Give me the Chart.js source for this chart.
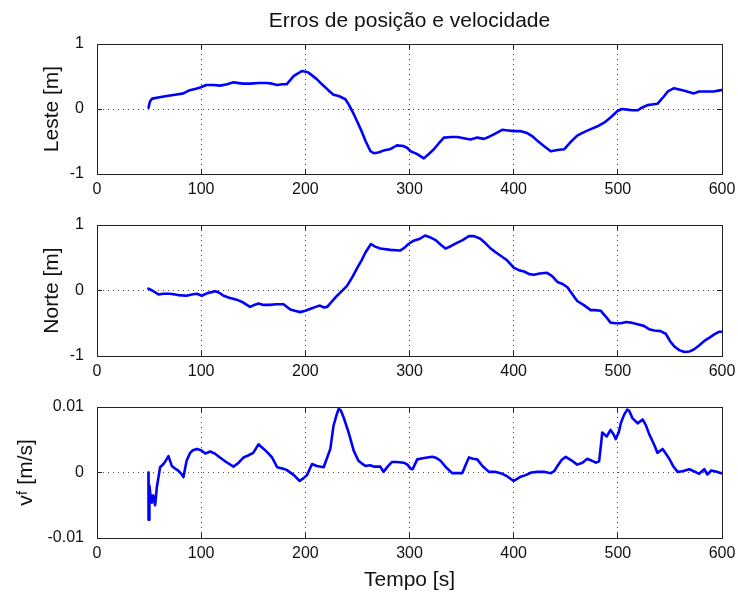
<!DOCTYPE html>
<html><head><meta charset="utf-8">
<script src="https://cdn.jsdelivr.net/npm/chart.js@4/dist/chart.umd.min.js"></script>
<style>
html,body{margin:0;padding:0;background:#fff;}
#wrap{position:relative;width:738px;height:597px;overflow:hidden;}
canvas{position:absolute;left:0;display:block;}
</style></head><body>
<div id="wrap">
<canvas id="c1" width="738" height="200" style="top:0px"></canvas>
<canvas id="c2" width="738" height="182" style="top:200px"></canvas>
<canvas id="c3" width="738" height="215" style="top:382px"></canvas>
</div>
<script>
const titleText = 'Erros de posição e velocidade';
const xAxisLabel = 'Tempo [s]';
const yLabelLeste = 'Leste [m]';
const yLabelNorte = 'Norte [m]';
const yLabelVel = 'vᶠ [m/s]';
const xTicks = [0, 100, 200, 300, 400, 500, 600];
const yTicksPos = [-1, 0, 1];
const yTickLabelsPos = ['-1', '0', '1'];
const yTicksVel = [-0.01, 0, 0.01];
const yTickLabelsVel = ['-0.01', '0', '0.01'];

const tLeste = [49.5,50,51,53,60,67,75,83,89,95,99,105,112,118,125,131,140,147,155,163,168,173,178,182,189,197,203,211,216,222,227,232,238.5,242,246.5,250,254.5,258,262.5,265.7,270,275,281,288,294,298,301,307,313.8,318,323.4,328,333,340,346,352,358.7,365,371.5,376,381,389,395,400,406,413,418,422.8,429,435.6,442,448.4,454,461,467,474,480,486.8,493,499.7,504,509,514,519,523,528.5,533,538,543,548,554,559,564,568,573,578,586,592,599,600];
const leste = [0.02,0.06,0.12,0.16,0.18,0.2,0.22,0.24,0.29,0.31,0.33,0.37,0.37,0.36,0.38,0.41,0.39,0.39,0.40,0.40,0.39,0.37,0.38,0.38,0.51,0.585,0.56,0.46,0.38,0.29,0.22,0.2,0.15,0.06,-0.08,-0.2,-0.36,-0.5,-0.65,-0.68,-0.67,-0.64,-0.62,-0.56,-0.57,-0.6,-0.65,-0.69,-0.76,-0.7,-0.62,-0.53,-0.44,-0.43,-0.43,-0.45,-0.47,-0.44,-0.46,-0.43,-0.39,-0.32,-0.33,-0.34,-0.34,-0.37,-0.42,-0.49,-0.57,-0.65,-0.63,-0.62,-0.52,-0.41,-0.36,-0.31,-0.27,-0.21,-0.13,-0.03,0.0,-0.01,-0.02,-0.02,0.02,0.06,0.07,0.08,0.17,0.27,0.32,0.3,0.28,0.26,0.24,0.27,0.27,0.27,0.29,0.29];

const tNorte = [49.4,53,59,64,70,78,86,91,96,100.6,106,113.5,117,121.5,127,134,140,147,151,155,160,166,172,179,185.6,190,195,200,205,210,214,218,221,226,230.5,235,240,245,250,254,257.7,263,267,272,281.7,291,295,299,304,310,315,320,325,330,334.6,340,346,351,357,362,368,373,378,383,387.5,393,400,405,410,415,419.5,425,432,437,442,447,451.6,456,461,467,474,478,483.7,488,493,498,503,508,512.5,518,525,530,535,541,546,550,554,559,564,569,573,578,583,588,592.6,597,600];
const norte = [0.03,0.0,-0.06,-0.05,-0.05,-0.07,-0.08,-0.06,-0.05,-0.08,-0.04,-0.01,-0.03,-0.08,-0.11,-0.14,-0.18,-0.25,-0.22,-0.2,-0.22,-0.22,-0.21,-0.21,-0.29,-0.31,-0.33,-0.31,-0.28,-0.25,-0.23,-0.26,-0.25,-0.16,-0.08,-0.01,0.07,0.2,0.35,0.46,0.58,0.71,0.67,0.64,0.62,0.61,0.65,0.71,0.76,0.79,0.84,0.81,0.77,0.7,0.64,0.68,0.73,0.77,0.83,0.83,0.79,0.72,0.64,0.58,0.53,0.47,0.35,0.31,0.29,0.25,0.24,0.26,0.27,0.22,0.13,0.1,0.05,-0.05,-0.16,-0.22,-0.3,-0.3,-0.31,-0.39,-0.49,-0.5,-0.5,-0.48,-0.49,-0.51,-0.54,-0.59,-0.61,-0.62,-0.66,-0.77,-0.85,-0.91,-0.94,-0.93,-0.9,-0.84,-0.77,-0.72,-0.67,-0.63,-0.63];

const tVel = [49.4,49.5,50,50.3,51,52.6,54,55.8,57.4,60.6,63.8,66,68.6,71.8,75,78,81,83,86,89.4,92,96,100,104,108.7,113,118,124,131,136,140.7,145,150,155,160,164,168,173,178,182,189,194.5,198,201.6,206.4,211,217.6,221,224,227,230,232,234,236.8,241.6,246.5,251,254,257.7,262,265.7,272,275,279,283,288,294.5,298,301,303,307.4,314,321.8,326,329.8,335,341,346,350.6,354,357,361,365,370,376.3,382,387.5,394,400,406,411.5,417,422.8,429,435.6,439,442,446,450,455,461,466,470.7,475,478.8,482,484,485,489.4,493,496,498,501,503,506,509,511,514,519,523.8,527,530,535,538,543,546,549.4,553,557.4,562,568.6,573,578,583,586,589.7,595,599,600];
const vel = [0,-0.0072,-0.0072,-0.002,-0.003,-0.0046,-0.0035,-0.005,-0.0023,0.0008,0.0013,0.0018,0.0025,0.001,0.0006,0.0003,-0.0002,-0.0007,0.0018,0.003,0.0034,0.0036,0.0034,0.0029,0.0032,0.0029,0.0023,0.0016,0.0009,0.0015,0.0023,0.0026,0.003,0.0043,0.0036,0.003,0.0023,0.0008,0.0006,0.0004,-0.0004,-0.0013,-0.0009,-0.0004,0.0013,0.001,0.0008,0.0023,0.0036,0.0071,0.0088,0.0097,0.0095,0.0084,0.0061,0.0033,0.0018,0.0014,0.001,0.0011,0.0009,0.0009,0.0001,0.0009,0.0016,0.0016,0.0015,0.0012,0.0006,0.0005,0.002,0.0022,0.0024,0.0022,0.0018,0.0008,-0.0001,-0.0001,-0.0001,0.0012,0.0023,0.0021,0.002,0.001,0.0001,0.0001,-0.0001,-0.0006,-0.0013,-0.0007,-0.0004,0.0,0.0001,0.0001,-0.0001,0.0002,0.001,0.0019,0.0024,0.0019,0.0012,0.0015,0.0021,0.0018,0.0015,0.0017,0.0045,0.0061,0.0055,0.0065,0.0058,0.0051,0.0062,0.0076,0.0088,0.0096,0.0094,0.0083,0.0075,0.0081,0.0072,0.0059,0.0042,0.003,0.0036,0.0029,0.0021,0.001,0.0001,0.0002,0.0005,0.0002,-0.0002,0.0005,-0.0003,0.0003,0.0001,-0.0001,-0.0001];

const FONT = '"Liberation Sans", Arial, Helvetica, sans-serif';
const TXT = '#111';
const AX = '#222';

function makeChart(id, t, v, yTicks, yTickLabels, yLabel, g) {
  const xTickSet = s => { s.ticks = xTicks.map(x => ({value: x})); };
  const yTickSet = s => { s.ticks = yTicks.map(y => ({value: y})); };
  const noPad = s => { s.paddingLeft = 0; s.paddingRight = 0; s.paddingTop = 0; s.paddingBottom = 0; };
  const gridMain = {color: '#444', lineWidth: 1, drawTicks: true, tickLength: -5, tickColor: AX, tickWidth: 1};
  const borderMain = {display: true, color: AX, width: 1, dash: [1, 4]};
  const gridSec = {drawOnChartArea: false, drawTicks: true, tickLength: -5, tickColor: AX, tickWidth: 1};
  const borderSec = {display: true, color: AX, width: 1};
  return new Chart(document.getElementById(id), {
    type: 'line',
    data: {
      datasets: [{
        data: t.map((x, i) => ({x: x, y: v[i]})),
        xAxisID: 'x', yAxisID: 'y',
        borderColor: '#0000ff', borderWidth: 2.6,
        pointRadius: 0, tension: 0, fill: false,
        borderJoinStyle: 'round', borderCapStyle: 'round'
      }]
    },
    options: {
      responsive: false, animation: false, devicePixelRatio: 1,
      layout: {padding: 0},
      plugins: {legend: {display: false}, tooltip: {enabled: false}, title: {display: false}},
      scales: {
        x: {
          type: 'linear', position: 'bottom', min: 0, max: 600,
          afterBuildTicks: xTickSet,
          afterFit: s => { s.height = g.bottomH; noPad(s); },
          grid: gridMain, border: borderMain,
          ticks: {color: TXT, font: {family: FONT, size: 16}, padding: 11.4, maxRotation: 0, autoSkip: false,
                  callback: val => String(val)},
          title: g.xTitle ? {display: true, text: g.xTitle, color: TXT, font: {family: FONT, size: 21}, padding: {top: 0, bottom: 4.4}} : {display: false}
        },
        xTop: {
          type: 'linear', position: 'top', min: 0, max: 600,
          afterBuildTicks: xTickSet,
          afterFit: s => { s.height = g.topH; noPad(s); },
          grid: gridSec, border: borderSec,
          ticks: {display: false},
          title: g.title ? {display: true, text: g.title, color: TXT, font: {family: FONT, size: 21}, padding: {top: 9, bottom: 0}} : {display: false}
        },
        y: {
          type: 'linear', position: 'left', min: yTicks[0], max: yTicks[yTicks.length - 1],
          afterBuildTicks: yTickSet,
          afterFit: s => { s.width = 97; noPad(s); },
          grid: gridMain, border: borderMain,
          ticks: {color: TXT, font: {family: FONT, size: 16}, padding: 18,
                  callback: val => yTickLabels[yTicks.indexOf(val)]},
          title: {display: true, text: yLabel, color: TXT, font: {family: FONT, size: 21}, padding: {top: g.yTitlePad, bottom: 0}}
        },
        yRight: {
          type: 'linear', position: 'right', min: yTicks[0], max: yTicks[yTicks.length - 1],
          afterBuildTicks: yTickSet,
          afterFit: s => { s.width = 16; noPad(s); },
          grid: gridSec, border: borderSec,
          ticks: {display: false}
        }
      }
    }
  });
}

makeChart('c1', tLeste, leste, yTicksPos, yTickLabelsPos, yLabelLeste, {topH: 44, bottomH: 26, yTitlePad: 39.4, title: titleText});
makeChart('c2', tNorte, norte, yTicksPos, yTickLabelsPos, yLabelNorte, {topH: 25, bottomH: 26, yTitlePad: 39.4});
makeChart('c3', tVel, vel, yTicksVel, yTickLabelsVel, yLabelVel, {topH: 25, bottomH: 59, yTitlePad: 13.4, xTitle: xAxisLabel});
</script>
</body></html>
